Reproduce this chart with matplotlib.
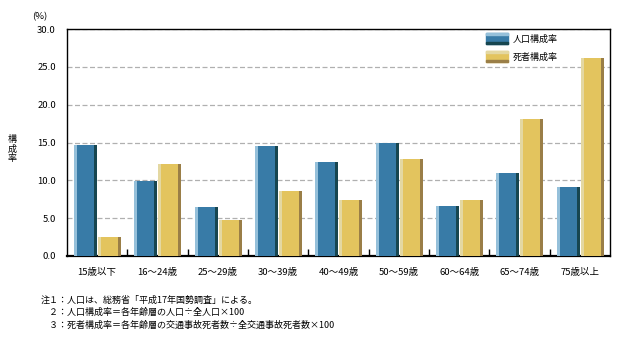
import numpy as np
import matplotlib
matplotlib.use("Agg")
import matplotlib.pyplot as plt
from matplotlib.patches import Rectangle
from matplotlib.legend_handler import HandlerBase

plt.rcParams['font.family'] = ['Noto Sans CJK JP', 'DejaVu Sans']

# 年齢層別の人口構成率と交通事故死者構成率
age_groups = ['15歳以下', '16～24歳', '25～29歳', '30～39歳', '40～49歳',
              '50～59歳', '60～64歳', '65～74歳', '75歳以上']
pop_share = [14.7, 9.9, 6.5, 14.5, 12.4, 14.9, 6.6, 11.0, 9.1]
death_share = [2.5, 12.2, 4.8, 8.6, 7.4, 12.8, 7.4, 18.1, 26.2]
series_names = ['人口構成率', '死者構成率']
notes = ['注１：人口は、総務省「平成17年国勢調査」による。',
         '　２：人口構成率＝各年齢層の人口÷全人口×100',
         '　３：死者構成率＝各年齢層の交通事故死者数÷全交通事故死者数×100']

# (main, light edge, dark edge)
blue = ('#387ba7', '#95c0da', '#174650')
gold = ('#e3c45e', '#e4d8a2', '#9a7e47')

bar_w = 0.38
edge_w = 0.05
fs = 6.8


def shaded_bars(ax, left, heights, cols):
    ax.bar(left, heights, width=bar_w, align='edge', color=cols[0], zorder=3)
    ax.bar(left, heights, width=edge_w, align='edge', color=cols[1], zorder=4)
    ax.bar(left + bar_w - edge_w, heights, width=edge_w, align='edge',
           color=cols[2], zorder=4)


class ShadedHandler(HandlerBase):
    def __init__(self, cols):
        super().__init__()
        self.cols = cols

    def create_artists(self, legend, orig_handle, xdescent, ydescent,
                       width, height, fontsize, trans):
        h = height * 1.35
        y0 = -ydescent - (h - height) / 2
        strip = h * 0.16
        return [Rectangle((-xdescent, y0), width, h, color=self.cols[0], transform=trans),
                Rectangle((-xdescent, y0 + h - strip), width, strip, color=self.cols[1], transform=trans),
                Rectangle((-xdescent, y0), width, strip, color=self.cols[2], transform=trans)]


fig = plt.figure(figsize=(6.2, 3.39), dpi=100)
ax = fig.add_axes([0.108, 0.245, 0.876, 0.669])

x = np.arange(len(age_groups))
shaded_bars(ax, x - 0.384, pop_share, blue)
shaded_bars(ax, x + 0.014, death_share, gold)

ax.set_xlim(-0.5, len(age_groups) - 0.5)
ax.set_ylim(0, 30)
ax.set_yticks(np.arange(0, 30.1, 5))
ax.set_yticklabels([f'{v:.1f}' for v in np.arange(0, 30.1, 5)], fontsize=fs)
ax.yaxis.grid(True, linestyle=(0, (4, 2)), color='#b0b0b0', linewidth=0.9, zorder=0)
ax.tick_params(axis='y', length=0, pad=8)

ax.set_xticks(x)
ax.set_xticklabels(age_groups, fontsize=fs)
ax.tick_params(axis='x', which='major', length=0, pad=9)
ax.set_xticks(x[:-1] + 0.5, minor=True)
ax.tick_params(axis='x', which='minor', direction='in', length=5, width=1.0, color='black')

for s in ax.spines.values():
    s.set_color('black')
    s.set_linewidth(1.0)
ax.spines['bottom'].set_linewidth(1.6)

ax.text(-0.05, 1.035, '(%)', transform=ax.transAxes, fontsize=fs, ha='center', va='bottom')
fig.text(0.02, 0.56, '構\n成\n率', fontsize=6.5, ha='center', va='center', linespacing=1.05)

proxy_a = Rectangle((0, 0), 1, 1)
proxy_b = Rectangle((0, 0), 1, 1)
ax.legend([proxy_a, proxy_b], series_names, loc='upper left',
          bbox_to_anchor=(0.757, 1.012), frameon=False, fontsize=6.5,
          handlelength=2.4, handleheight=1.0, handletextpad=0.5, labelspacing=1.0,
          handler_map={proxy_a: ShadedHandler(blue), proxy_b: ShadedHandler(gold)})

for i, line in enumerate(notes):
    fig.text(0.065, 0.115 - i * 0.037, line, fontsize=6.5, ha='left', va='center')

fig.savefig('out.png', dpi=100)
